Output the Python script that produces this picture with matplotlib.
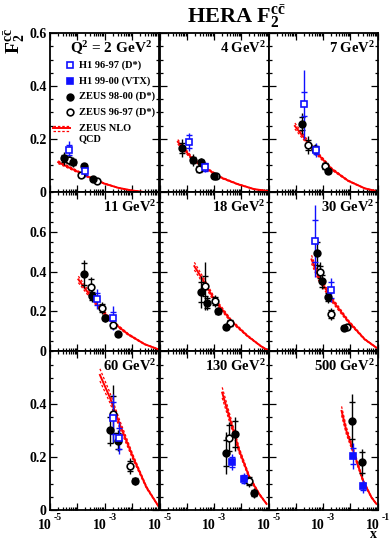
import numpy as np
import matplotlib
matplotlib.use("Agg")
import matplotlib.pyplot as plt
from matplotlib.ticker import FixedLocator, LogLocator, NullFormatter

plt.rcParams["font.family"] = "Liberation Serif"
plt.rcParams["font.weight"] = "bold"
plt.rcParams["mathtext.fontset"] = "custom"
plt.rcParams["mathtext.rm"] = "Liberation Serif:bold"
plt.rcParams["mathtext.bf"] = "Liberation Serif:bold"
plt.rcParams["mathtext.it"] = "Liberation Serif:bold"

# panels, left to right, top to bottom
q2_bins = [2, 4, 7, 11, 18, 30, 60, 130, 500]
panel_labels = ["Q$^{2}$ = 2 GeV$^{2}$", "4 GeV$^{2}$", "7 GeV$^{2}$",
                "11 GeV$^{2}$", "18 GeV$^{2}$", "30 GeV$^{2}$",
                "60 GeV$^{2}$", "130 GeV$^{2}$", "500 GeV$^{2}$"]
row_ymax = [0.6, 0.8, 0.6]
row_yticks = [[0, 0.2, 0.4, 0.6], [0, 0.2, 0.4, 0.6], [0, 0.2, 0.4]]

# ZEUS 98-00 (D*)
zeus9800_q2 = [2, 2, 2, 2, 4, 4, 4, 4, 7, 7, 7, 11, 11, 11, 11, 18, 18, 18, 18,
               30, 30, 30, 30, 60, 60, 60, 130, 130, 130, 500, 500]
zeus9800_x = [3.3e-5, 7.2e-5, 1.8e-4, 3.7e-4, 6.6e-5, 1.66e-4, 3.2e-4, 1.02e-3,
              1.74e-4, 5.0e-4, 1.48e-3, 1.82e-4, 3.5e-4, 1.02e-3, 3.0e-3,
              3.2e-4, 5.5e-4, 1.35e-3, 2.75e-3, 5.9e-4, 9.3e-4, 1.48e-3, 6.0e-3,
              1.58e-3, 3.2e-3, 1.29e-2, 2.75e-3, 5.75e-3, 2.9e-2, 1.17e-2, 2.8e-2]
zeus9800_f2 = [0.126, 0.113, 0.098, 0.050, 0.165, 0.120, 0.111, 0.060,
               0.258, 0.161, 0.079, 0.390, 0.277, 0.168, 0.084,
               0.297, 0.244, 0.200, 0.121, 0.492, 0.353, 0.274, 0.118,
               0.302, 0.262, 0.111, 0.215, 0.287, 0.064, 0.337, 0.180]
zeus9800_stat = [0.012, 0.010, 0.008, 0.004, 0.020, 0.012, 0.008, 0.005,
                 0.025, 0.012, 0.006, 0.055, 0.020, 0.012, 0.008,
                 0.050, 0.025, 0.012, 0.010, 0.060, 0.030, 0.020, 0.008,
                 0.050, 0.030, 0.010, 0.050, 0.050, 0.012, 0.070, 0.040]
zeus9800_tot = [0.025, 0.020, 0.012, 0.007, 0.035, 0.022, 0.015, 0.008,
                0.040, 0.020, 0.010, 0.070, 0.030, 0.020, 0.012,
                0.080, 0.035, 0.018, 0.015, 0.080, 0.040, 0.030, 0.012,
                0.060, 0.040, 0.015, 0.080, 0.065, 0.020, 0.100, 0.050]

# ZEUS 96-97 (D*)
zeus9697_q2 = [2, 2, 2, 4, 4, 7, 7, 11, 11, 11, 18, 18, 18, 30, 30, 30, 60, 60, 130, 130]
zeus9697_x = [5.1e-5, 1.35e-4, 5.2e-4, 2.75e-4, 1.17e-3, 2.9e-4, 1.17e-3,
              3.1e-4, 8.3e-4, 2.0e-3, 4.7e-4, 1.1e-3, 4.0e-3, 7.8e-4, 1.95e-3, 7.9e-3,
              2.1e-3, 8.5e-3, 3.7e-3, 1.86e-2]
zeus9697_f2 = [0.120, 0.063, 0.042, 0.086, 0.058, 0.177, 0.098,
               0.322, 0.215, 0.129, 0.327, 0.252, 0.143, 0.398, 0.185, 0.123,
               0.362, 0.167, 0.272, 0.108]
zeus9697_stat = [0.012, 0.006, 0.004, 0.010, 0.005, 0.020, 0.010,
                 0.040, 0.020, 0.012, 0.050, 0.020, 0.015, 0.030, 0.020, 0.010,
                 0.070, 0.020, 0.050, 0.015]
zeus9697_tot = [0.020, 0.010, 0.006, 0.015, 0.008, 0.035, 0.018,
                0.050, 0.030, 0.020, 0.120, 0.030, 0.020, 0.050, 0.030, 0.015,
                0.110, 0.030, 0.060, 0.020]

# H1 96-97 (D*)
h19697_q2 = [2, 2, 4, 4, 7, 7, 11, 11, 30, 30, 60, 60]
h19697_x = [5.1e-5, 2.0e-4, 1.26e-4, 4.7e-4, 2.0e-4, 5.4e-4, 5.1e-4, 2.1e-3,
            5.0e-4, 1.95e-3, 2.1e-3, 3.4e-3]
h19697_f2 = [0.158, 0.077, 0.189, 0.094, 0.331, 0.158, 0.264, 0.168,
             0.555, 0.307, 0.347, 0.272]
h19697_stat = [0.020, 0.012, 0.025, 0.015, 0.045, 0.015, 0.030, 0.030,
               0.105, 0.040, 0.060, 0.040]
h19697_tot = [0.035, 0.020, 0.035, 0.020, 0.130, 0.025, 0.050, 0.060,
              0.180, 0.060, 0.090, 0.060]

# H1 99-00 (VTX)
h19900_q2 = [130, 130, 500, 500]
h19900_x = [4.7e-3, 1.23e-2, 1.26e-2, 3.0e-2]
h19900_f2 = [0.182, 0.119, 0.205, 0.089]
h19900_stat = [0.020, 0.015, 0.030, 0.015]
h19900_tot = [0.030, 0.020, 0.050, 0.025]

# ZEUS NLO QCD central curve
nlo_q2 = [2] * 8 + [4] * 7 + [7] * 7 + [11] * 7 + [18] * 7 + [30] * 6 + [60] * 6 + [130] * 6 + [500] * 6
nlo_x = [2.0e-5, 4.0e-5, 1.0e-4, 3.2e-4, 1.0e-3, 3.2e-3, 1.0e-2, 2.5e-2,
         4.7e-5, 1.45e-4, 4.5e-4, 1.8e-3, 7.4e-3, 3.0e-2, 9.3e-2,
         9.3e-5, 2.2e-4, 5.0e-4, 2.1e-3, 8.3e-3, 3.4e-2, 7.9e-2,
         1.1e-4, 2.5e-4, 5.9e-4, 1.8e-3, 7.4e-3, 3.0e-2, 9.3e-2,
         1.9e-4, 4.5e-4, 1.02e-3, 4.3e-3, 1.7e-2, 5.2e-2, 9.3e-2,
         3.8e-4, 6.6e-4, 2.1e-3, 8.3e-3, 3.4e-2, 9.1e-2,
         6.8e-4, 1.58e-3, 3.6e-3, 1.12e-2, 3.5e-2, 9.3e-2,
         2.0e-3, 3.7e-3, 8.5e-3, 2.0e-2, 4.6e-2, 8.5e-2,
         4.8e-3, 7.2e-3, 1.29e-2, 2.95e-2, 6.0e-2, 9.1e-2]
nlo_f2 = [0.112, 0.097, 0.077, 0.052, 0.031, 0.015, 0.005, 0.0,
          0.189, 0.130, 0.092, 0.054, 0.029, 0.010, 0.003,
          0.249, 0.199, 0.155, 0.086, 0.042, 0.013, 0.004,
          0.361, 0.294, 0.227, 0.151, 0.084, 0.034, 0.009,
          0.428, 0.345, 0.260, 0.151, 0.076, 0.025, 0.004,
          0.462, 0.378, 0.260, 0.151, 0.059, 0.017,
          0.511, 0.425, 0.325, 0.199, 0.085, 0.016,
          0.444, 0.350, 0.224, 0.123, 0.060, 0.023,
          0.375, 0.300, 0.224, 0.111, 0.048, 0.023]
nlo_band = 0.045  # relative half width of the uncertainty band

RED = "#ff0000"
BLUE = "#1010ff"

fig = plt.figure(figsize=(3.92, 5.41), dpi=100)
W, H = 392.0, 541.0

col_left = [50, 159.5, 268.5]
col_w = 109
row_top = [33.2, 192.4, 351.4]
row_h = 158.6


def data_in(q2, xs, ys, st, tt, q):
    idx = [i for i, v in enumerate(q2) if v == q]
    return (np.array([xs[i] for i in idx]), np.array([ys[i] for i in idx]),
            np.array([st[i] for i in idx]), np.array([tt[i] for i in idx]))


def draw_points(ax, d, color, marker, face):
    x, y, st, tt = d
    if len(x) == 0:
        return
    ax.vlines(x, y - tt, y + tt, color=color, lw=1.0, zorder=4)
    ax.plot(np.r_[x, x], np.r_[y - st, y + st], ls="none", marker="_",
            ms=5, mew=1.0, color=color, zorder=4)
    ax.plot(x, y, ls="none", marker=marker, ms=4.8, mew=1.2,
            mfc=face, mec=color, zorder=5)


axes = []
for i, q in enumerate(q2_bins):
    r, c = divmod(i, 3)
    ax = fig.add_axes([col_left[c] / W, 1 - (row_top[r] + row_h) / H,
                       col_w / W, row_h / H])
    ax.set_xscale("log")
    ax.set_xlim(1e-5, 1e-1)
    ax.set_ylim(0, row_ymax[r])
    ax.xaxis.set_major_locator(LogLocator(base=10, numticks=10))
    ax.xaxis.set_minor_locator(LogLocator(base=10, subs=np.arange(2, 10), numticks=20))
    ax.xaxis.set_major_formatter(NullFormatter())
    ax.xaxis.set_minor_formatter(NullFormatter())
    ax.yaxis.set_major_locator(FixedLocator(np.arange(0, row_ymax[r] + 0.01, 0.2)))
    ax.yaxis.set_minor_locator(FixedLocator(np.arange(0, row_ymax[r] + 0.01, 0.05)))
    ax.tick_params(which="both", direction="in", top=True, right=True, width=0.9)
    ax.tick_params(which="major", length=5)
    ax.tick_params(which="minor", length=2.5)
    for s in ax.spines.values():
        s.set_linewidth(1.3)
    if c == 0:
        ax.set_yticks(row_yticks[r])
        ax.set_yticklabels(["0" if v == 0 else f"{v:.1f}" for v in row_yticks[r]],
                           fontsize=10, fontweight="bold")
        ax.tick_params(axis="y", pad=2.5)
    else:
        ax.set_yticklabels([])

    # NLO band
    idx = [k for k, v in enumerate(nlo_q2) if v == q]
    cx = np.array([nlo_x[k] for k in idx])
    cy = np.array([nlo_f2[k] for k in idx])
    ax.plot(cx, cy, color=RED, lw=1.4, zorder=2)
    ax.plot(cx, cy * (1 + nlo_band), color=RED, lw=0.9, ls=(0, (2, 1.5)), zorder=2)
    ax.plot(cx, cy * (1 - nlo_band), color=RED, lw=0.9, ls=(0, (2, 1.5)), zorder=2)

    draw_points(ax, data_in(zeus9697_q2, zeus9697_x, zeus9697_f2, zeus9697_stat, zeus9697_tot, q),
                "black", "o", "white")
    draw_points(ax, data_in(zeus9800_q2, zeus9800_x, zeus9800_f2, zeus9800_stat, zeus9800_tot, q),
                "black", "o", "black")
    draw_points(ax, data_in(h19697_q2, h19697_x, h19697_f2, h19697_stat, h19697_tot, q),
                BLUE, "s", "white")
    draw_points(ax, data_in(h19900_q2, h19900_x, h19900_f2, h19900_stat, h19900_tot, q),
                BLUE, "s", BLUE)

    if i == 0:
        ax.text(0.935, 0.875, panel_labels[i], transform=ax.transAxes,
                ha="right", va="baseline", fontsize=11, fontweight="bold")
    else:
        ax.text(0.975, 0.875, panel_labels[i], transform=ax.transAxes,
                ha="right", va="baseline", fontsize=10.5, fontweight="bold")
    axes.append(ax)

# legend in first panel
ax = axes[0]
leg_rows = [("H1 96-97 (D*)", BLUE, "s", "white", 0.80),
            ("H1 99-00 (VTX)", BLUE, "s", BLUE, 0.70),
            ("ZEUS 98-00 (D*)", "black", "o", "black", 0.60),
            ("ZEUS 96-97 (D*)", "black", "o", "white", 0.50)]
for txt, col, mk, fc, yy in leg_rows:
    ax.plot([0.183], [yy], transform=ax.transAxes, marker=mk, ms=4.8, mew=1.2,
            mfc=fc, mec=col, ls="none", clip_on=False)
    ax.text(0.266, yy, txt, transform=ax.transAxes, ha="left", va="center",
            fontsize=7.5, fontweight="bold")
ax.plot([0.03, 0.18], [0.417, 0.417], transform=ax.transAxes, color=RED, lw=0.9, ls=(0, (2, 1.5)))
ax.plot([0.03, 0.18], [0.401, 0.401], transform=ax.transAxes, color=RED, lw=1.4)
ax.plot([0.03, 0.18], [0.383, 0.383], transform=ax.transAxes, color=RED, lw=0.9, ls=(0, (2, 1.5)))
ax.text(0.266, 0.40, "ZEUS NLO", transform=ax.transAxes, ha="left", va="center",
        fontsize=7.5, fontweight="bold")
ax.text(0.266, 0.335, "QCD", transform=ax.transAxes, ha="left", va="center",
        fontsize=7.5, fontweight="bold")

# x tick labels drawn ROOT-like under the bottom row
base_y = 529
for c in range(3):
    ticks = [col_left[c], col_left[c] + col_w / 2]
    exps = ["-5", "-3"]
    if c == 2:
        ticks.append(col_left[c] + col_w)
        exps.append("-1")
    for t, e in zip(ticks, exps):
        fig.text((t + 2) / W, 1 - base_y / H, "10", ha="right", va="baseline",
                 fontsize=10, fontweight="bold")
        fig.text((t + 4) / W, 1 - (base_y - 9) / H, e, ha="left", va="baseline",
                 fontsize=7, fontweight="bold")

fig.text(373 / W, 1 - 538.5 / H, "x", ha="center", va="baseline", fontsize=10, fontweight="bold")
fig.text(187 / W, 1 - 23 / H, r"HERA F$_{2}^{c\bar{c}}$", ha="left", va="baseline",
         fontsize=16, fontweight="bold")
fig.text(15 / W, 1 - 41 / H, r"F$_{2}^{c\bar{c}}$", ha="center", va="center",
         rotation=90, fontsize=14, fontweight="bold")

fig.savefig("out.png", dpi=100)
